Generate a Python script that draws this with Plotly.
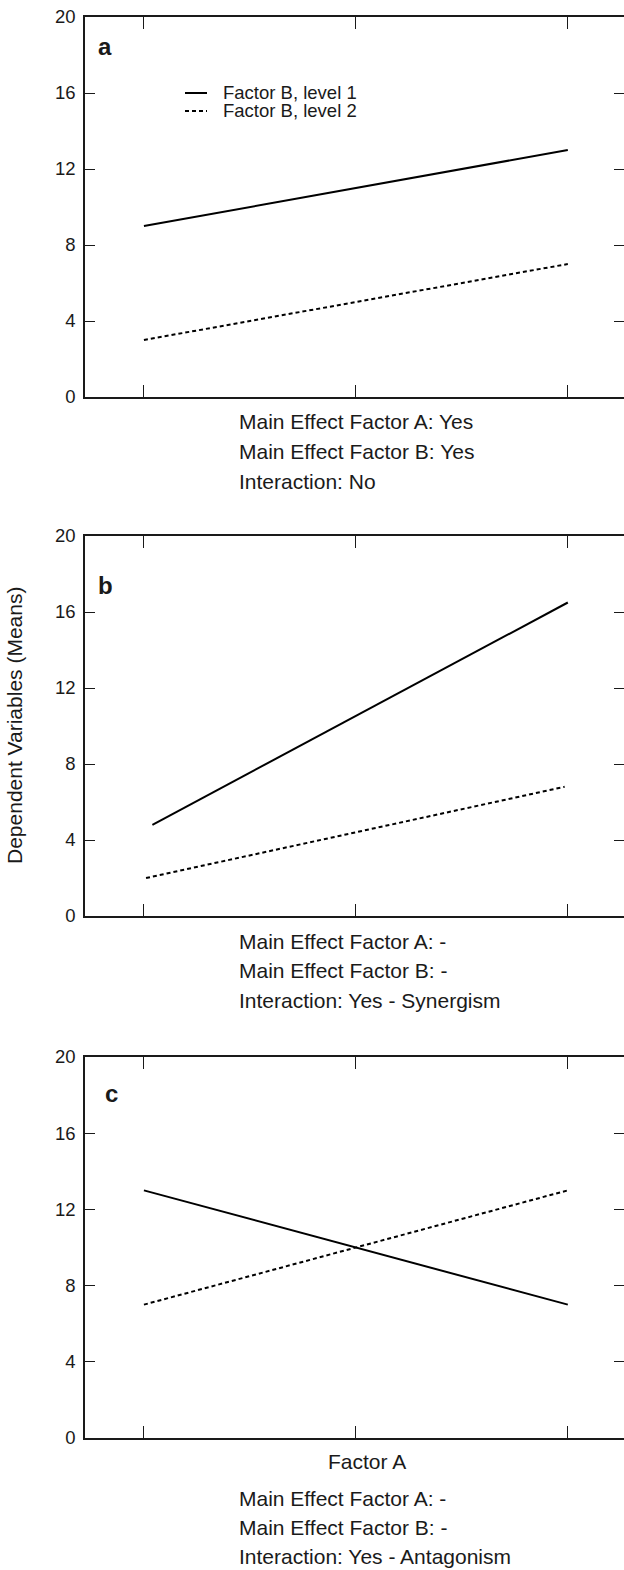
import plotly.graph_objects as go

# ---- data ----
panel_letters = ["a", "b", "c"]
series_names = ["Factor B, level 1", "Factor B, level 2"]
a_x1 = [1, 3];      a_y1 = [9, 13]
a_x2 = [1, 3];      a_y2 = [3, 7]
b_x1 = [1.04, 3];   b_y1 = [4.8, 16.5]
b_x2 = [1.01, 2.985]; b_y2 = [2.0, 6.8]
c_x1 = [1, 3];      c_y1 = [13, 7]
c_x2 = [1, 3];      c_y2 = [7, 13]
x_ticks = [1, 2, 3]
y_ticks = [0, 4, 8, 12, 16, 20]
notes_a = ["Main Effect Factor A: Yes", "Main Effect Factor B: Yes", "Interaction: No"]
notes_b = ["Main Effect Factor A: -", "Main Effect Factor B: -", "Interaction: Yes - Synergism"]
notes_c = ["Main Effect Factor A: -", "Main Effect Factor B: -", "Interaction: Yes - Antagonism"]
x_title = "Factor A"
y_title = "Dependent Variables (Means)"

W, H = 624, 1570
FONT = "Liberation Sans, Arial, sans-serif"
INK = "#1a1a1a"

def py(pix):
    return 1 - pix / H

def px(pix):
    return pix / W

panels = [
    (a_x1, a_y1, a_x2, a_y2, (17, 397)),
    (b_x1, b_y1, b_x2, b_y2, (536, 916)),
    (c_x1, c_y1, c_x2, c_y2, (1057, 1438)),
]
dash_style = "4px,3px"

fig = go.Figure()
layout = dict(
    width=W, height=H,
    margin=dict(l=0, r=0, t=0, b=0),
    paper_bgcolor="white", plot_bgcolor="white",
    font=dict(family=FONT, size=17, color=INK),
    showlegend=False,
)
xdom = [px(85), 1.0]
for i, (x1, y1, x2, y2, (top, bot)) in enumerate(panels):
    n = i + 1
    xa = "x" if n == 1 else f"x{n}"
    ya = "y" if n == 1 else f"y{n}"
    fig.add_trace(go.Scatter(x=x1, y=y1, mode="lines", name=series_names[0],
                             line=dict(color="black", width=2), xaxis=xa, yaxis=ya))
    fig.add_trace(go.Scatter(x=x2, y=y2, mode="lines", name=series_names[1],
                             line=dict(color="black", width=2, dash=dash_style),
                             xaxis=xa, yaxis=ya))
    dom = [py(bot), py(top)]
    xkey = "xaxis" if n == 1 else f"xaxis{n}"
    ykey = "yaxis" if n == 1 else f"yaxis{n}"
    layout[xkey] = dict(domain=xdom, range=[0.722, 3.265], anchor=ya, automargin=False,
                        tickvals=x_ticks, showticklabels=False, ticks="inside",
                        ticklen=12, tickwidth=1.3, tickcolor=INK,
                        showline=True, linecolor=INK, linewidth=1.5, mirror="ticks",
                        showgrid=False, zeroline=False, fixedrange=True)
    layout[ykey] = dict(domain=dom, range=[0, 20], anchor=xa, automargin=False,
                        tickvals=y_ticks, ticks="inside", ticklen=10, tickwidth=1.3,
                        tickcolor=INK, showline=True, linecolor=INK, linewidth=1.5,
                        mirror="ticks", showgrid=False, zeroline=False,
                        ticklabelstandoff=4,
                        tickfont=dict(size=18.5, color=INK), fixedrange=True)

fig.update_layout(**layout)

ann = []
shapes = []
letter_pos = [(105, 47), (105, 586), (111, 1093)]
for L, (lx, ly) in zip(panel_letters, letter_pos):
    ann.append(dict(text=f"<b>{L}</b>", x=px(lx), y=py(ly), xref="paper", yref="paper",
                    xanchor="center", yanchor="middle", showarrow=False,
                    font=dict(size=24, color=INK)))

# legend (panel a)
legend_rows = [(series_names[0], 93, "solid"), (series_names[1], 111, dash_style)]
for name, ly, dsh in legend_rows:
    shapes.append(dict(type="line", xref="paper", yref="paper",
                       x0=px(185), x1=px(207), y0=py(ly), y1=py(ly),
                       line=dict(color="black", width=2, dash=dsh)))
    ann.append(dict(text=name, x=px(221), y=py(ly), xref="paper", yref="paper",
                    xanchor="left", yanchor="middle", showarrow=False,
                    font=dict(size=18.5, color=INK)))

note_rows = [(notes_a, [421, 451, 481]), (notes_b, [941, 970, 1000]), (notes_c, [1498, 1527, 1556])]
for notes, ys in note_rows:
    for t, yy in zip(notes, ys):
        ann.append(dict(text=t, x=px(237), y=py(yy), xref="paper", yref="paper",
                        xanchor="left", yanchor="middle", showarrow=False,
                        font=dict(size=21, color=INK)))

ann.append(dict(text=x_title, x=px(367), y=py(1461), xref="paper", yref="paper",
                xanchor="center", yanchor="middle", showarrow=False,
                font=dict(size=21, color=INK)))
ann.append(dict(text=y_title, x=px(14), y=py(726), xref="paper", yref="paper",
                xanchor="center", yanchor="middle", showarrow=False, textangle=-90,
                font=dict(size=21, color=INK)))
fig.update_layout(annotations=ann, shapes=shapes)

post = ("document.body.style.margin='0';document.body.style.overflow='hidden';"
        "var d=document.getElementById('{plot_id}');d.style.position='absolute';"
        "d.style.top='0px';d.style.left='0px';")
fig.write_html("out.html", post_script=post, config={"displayModeBar": False})
